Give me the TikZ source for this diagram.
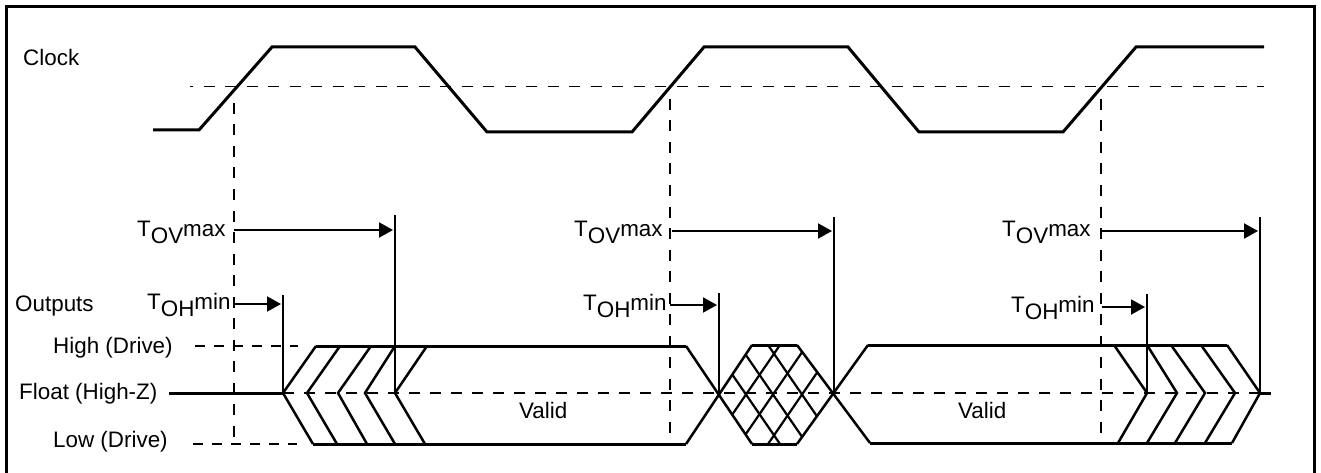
\documentclass[tikz,border=0pt]{standalone}
\usepackage{fontspec}
\setmainfont{Liberation Sans}
\usetikzlibrary{arrows.meta}
\newcommand{\lowtext}[1]{\raisebox{-7pt}{#1}}
\begin{document}
\begin{tikzpicture}[
    x=1pt, y=-1pt,
    label/.style={font=\fontsize{22.4}{24}\selectfont, anchor=base west, inner sep=0pt},
    wave/.style={line width=3pt, line join=miter},
    edgeline/.style={line width=2.5pt},
    hatchline/.style={line width=2.2pt},
    tick/.style={line width=2pt},
    measure/.style={line width=2pt, -{Triangle[length=14pt,width=15pt]}, shorten >=2pt},
    guide/.style={line width=2.2pt, dash pattern=on 11pt off 10.5pt},
    levelguide/.style={line width=2pt, dash pattern=on 10.5pt off 10.5pt},
    driveguide/.style={line width=2pt, dash pattern=on 10pt off 9pt},
    thinguide/.style={line width=1pt, dash pattern=on 11pt off 10.5pt, dash phase=8pt}
]
\useasboundingbox (0,0) rectangle (1321,473);

% Frame
\draw[line width=3pt] (6,473) -- (6,7) -- (1314,7) -- (1314,473);

% Labels
\node[label] (clock) at (23,66) {Clock};
\node[label] (outputs) at (15,311) {Outputs};
\node[label] (high) at (53,353) {High (Drive)};
\node[label] (float) at (19,399) {Float (High-Z)};
\node[label] (low) at (53,447) {Low (Drive)};

\node[label] (ovmaxa) at (137,236) {T\lowtext{OV}max};
\node[label] (ovmaxb) at (574,236) {T\lowtext{OV}max};
\node[label] (ovmaxc) at (1002,236) {T\lowtext{OV}max};
\node[label] (ohmina) at (147,309) {T\lowtext{OH}min};
\node[label] (ohminb) at (583,310) {T\lowtext{OH}min};
\node[label] (ohminc) at (1011,312) {T\lowtext{OH}min};

\node[label] (valida) at (519,418) {Valid};
\node[label] (validb) at (958,418) {Valid};

% Clock
\draw[wave] (153,130) -- (199,130) -- (272,47) -- (415,47) -- (487,132) -- (632,132) -- (704,47)
    -- (848,47) -- (919,132) -- (1063,132) -- (1136,47) -- (1264,47);
\draw[thinguide] (190,87) -- (1264,87);

% Reference lines
\coordinate (refa) at (234,103);
\coordinate (refb) at (670,99);
\coordinate (refc) at (1101,99);
\draw[guide] (refa) -- (234,440);
\draw[guide] (refb) -- (670,440);
\draw[guide] (refc) -- (1101,440);

% Levels
\draw[driveguide] (195,346) -- (298,346);
\draw[driveguide] (193,444) -- (297,444);
\draw[levelguide] (283,393) -- (1260,393);
\draw[wave] (169,393) -- (283,393);
\draw[wave] (1260,393) -- (1271,393);

% Limits
\coordinate (ovenda) at (395,215);
\coordinate (ovendb) at (834,217);
\coordinate (ovendc) at (1260,217);
\coordinate (ohenda) at (283,295);
\coordinate (ohendb) at (719,293);
\coordinate (ohendc) at (1147,294);
\draw[tick] (ovenda) -- (395,393);
\draw[tick] (ovendb) -- (834,393);
\draw[tick] (ovendc) -- (1260,393);
\draw[tick] (ohenda) -- (283,393);
\draw[tick] (ohendb) -- (719,393);
\draw[tick] (ohendc) -- (1147,393);

\coordinate (ovstarta) at (234,230);
\coordinate (ovstartb) at (672,231);
\coordinate (ovstartc) at (1100,231);
\coordinate (ohstarta) at (235,304);
\coordinate (ohstartb) at (670,305);
\coordinate (ohstartc) at (1102,307);
\draw[measure] (ovstarta) -- (ovstarta -| ovenda);
\draw[measure] (ovstartb) -- (ovstartb -| ovendb);
\draw[measure] (ovstartc) -- (ovstartc -| ovendc);
\draw[measure] (ohstarta) -- (ohstarta -| ohenda);
\draw[measure] (ohstartb) -- (ohstartb -| ohendb);
\draw[measure] (ohstartc) -- (ohstartc -| ohendc);

% Outputs, first valid window
\draw[wave] (316,346) -- (686,346);
\draw[wave] (313,444) -- (686,444);
\draw[edgeline] (316,346) -- (283,393) -- (313,444);
\draw[edgeline] (340,346) -- (307,393) -- (337,444);
\draw[edgeline] (371,346) -- (338,393) -- (367,444);
\draw[edgeline] (395,346) -- (365,393) -- (395,444);
\draw[edgeline] (427,346) -- (395,393) -- (425,444);

% Outputs, crossing region
\draw[edgeline] (686,346) -- (752,444);
\draw[edgeline] (686,444) -- (752,345);
\draw[edgeline] (797,345) -- (870,443);
\draw[edgeline] (797,444) -- (868,345);
\draw[wave] (752,345) -- (797,345);
\draw[wave] (752,444) -- (797,444);
\begin{scope}
\clip (719,393) -- (752,345) -- (797,345) -- (834,393) -- (797,444) -- (752,444) -- cycle;
\draw[hatchline] (712,345) -- (780,444);
\draw[hatchline] (739,345) -- (807,444);
\draw[hatchline] (768,345) -- (836,444);
\draw[hatchline] (780,345) -- (712,444);
\draw[hatchline] (807,345) -- (739,444);
\draw[hatchline] (836,345) -- (768,444);
\end{scope}

% Outputs, second valid window
\draw[wave] (868,345) -- (1227,345);
\draw[wave] (870,443) -- (1232,443);
\draw[edgeline] (1114,345) -- (1147,393) -- (1118,443);
\draw[edgeline] (1147,345) -- (1177,393) -- (1147,443);
\draw[edgeline] (1171,345) -- (1205,393) -- (1175,443);
\draw[edgeline] (1201,345) -- (1235,393) -- (1205,443);
\draw[edgeline] (1227,345) -- (1260,393) -- (1232,443);

\end{tikzpicture}
\end{document}
